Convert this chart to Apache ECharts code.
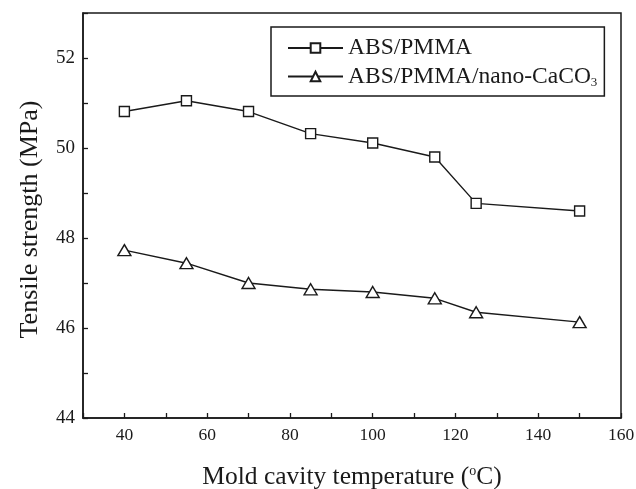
<!DOCTYPE html>
<html>
<head>
<meta charset="utf-8">
<script src="https://cdn.jsdelivr.net/npm/echarts@6/dist/echarts.min.js"></script>
<style>html,body{margin:0;padding:0;background:#fff}#c{width:636px;height:489px}</style>
</head>
<body>
<div id="c"></div>
<script>
var temperatures = [40, 55, 70, 85, 100, 115, 125, 150];
var absPmma = [50.81, 51.05, 50.81, 50.32, 50.11, 49.80, 48.77, 48.60];
var absPmmaNano = [47.73, 47.44, 47.00, 46.86, 46.80, 46.66, 46.35, 46.13];
var seriesNames = ['ABS/PMMA', 'ABS/PMMA/nano-CaCO3'];

var FONT = 'Liberation Serif';
var INK = '#1a1a1a';
var chart = echarts.init(document.getElementById('c'));
function pairs(xs, ys){ return xs.map(function(x,i){ return [x, ys[i]]; }); }
var lineStyle = {color:INK, width:1.4};
chart.setOption({
  animation:false,
  grid:{left:83, right:15, top:13, bottom:71, containLabel:false, outerBoundsMode:'none',
        show:true, borderColor:INK, borderWidth:1.5},
  legend:{
    orient:'vertical', left:271, top:27,
    padding:[9,7,7,16], itemGap:4,
    itemWidth:55, itemHeight:12,
    borderColor:INK, borderWidth:1.5,
    data:seriesNames,
    formatter:function(n){ return n === seriesNames[1] ? '{t|ABS/PMMA/nano-CaCO}{s|3}' : '{t|' + n + '}'; },
    textStyle:{
      fontFamily:FONT, fontSize:23.5, color:INK,
      rich:{ t:{fontFamily:FONT, fontSize:23.5, lineHeight:25, color:INK},
             s:{fontFamily:FONT, fontSize:13, lineHeight:13, color:INK, padding:[12,0,0,0]} }
    }
  },
  xAxis:{
    type:'value', min:30, max:160, interval:10,
    name:'Mold cavity temperature ({s|o}C)', nameLocation:'middle', nameGap:46,
    nameTextStyle:{fontFamily:FONT, fontSize:25.5, color:INK, rich:{s:{fontFamily:FONT, fontSize:14, color:INK, padding:[0,0,12,0]}}},
    axisLine:{onZero:false, lineStyle:{color:INK, width:1.5}},
    axisTick:{inside:true, length:5, lineStyle:{color:INK, width:1.3}},
    axisLabel:{fontFamily:FONT, fontSize:17.5, color:INK, margin:8,
      formatter:function(v){ return (v % 20 === 0 && v >= 40) ? String(v) : ''; }},
    splitLine:{show:false}
  },
  yAxis:{
    type:'value', min:44, max:53, interval:1,
    name:'Tensile strength (MPa)', nameLocation:'middle', nameGap:40,
    nameTextStyle:{fontFamily:FONT, fontSize:26, color:INK, padding:[0,8,0,0]},
    axisLine:{onZero:false, lineStyle:{color:INK, width:1.5}},
    axisTick:{inside:true, length:5, lineStyle:{color:INK, width:1.3}},
    axisLabel:{fontFamily:FONT, fontSize:19, color:INK, margin:8,
      formatter:function(v){ return (v % 2 === 0) ? String(v) : ''; }},
    splitLine:{show:false}
  },
  series:[
    {name:seriesNames[0], type:'line', data:pairs(temperatures, absPmma),
     symbol:'rect', symbolSize:10, showAllSymbol:true,
     lineStyle:lineStyle, itemStyle:{color:'#fff', borderColor:INK, borderWidth:1.4}},
    {name:seriesNames[1], type:'line', data:pairs(temperatures, absPmmaNano),
     symbol:'triangle', symbolSize:[13,11], showAllSymbol:true,
     lineStyle:lineStyle, itemStyle:{color:'#fff', borderColor:INK, borderWidth:1.4}}
  ]
});
</script>
</body>
</html>
